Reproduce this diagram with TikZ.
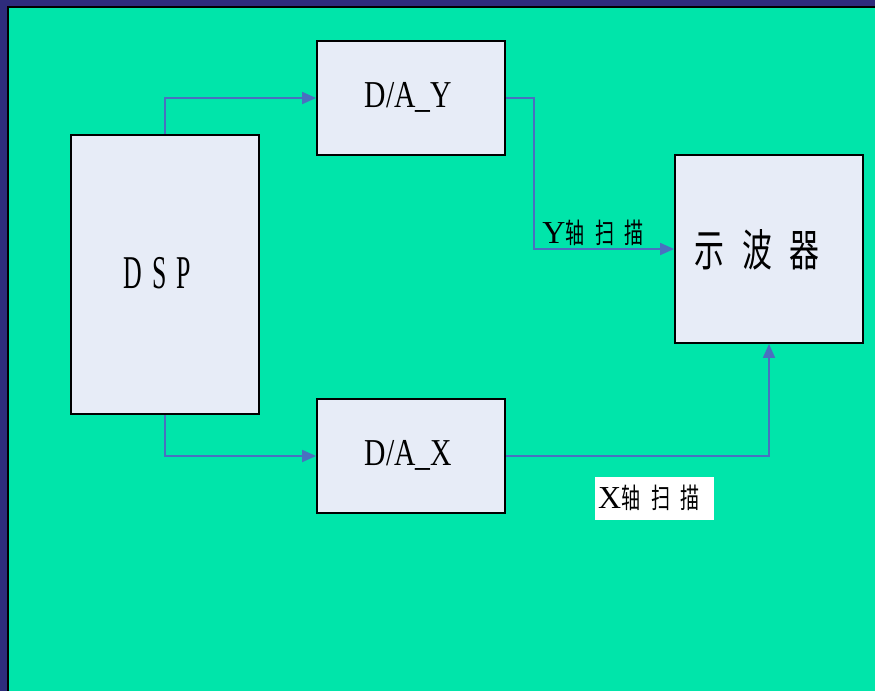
\documentclass[tikz,border=0pt]{standalone}
\usepackage{fontspec}
\usetikzlibrary{arrows.meta}
\setmainfont{Liberation Serif}
\newfontfamily\condA[FakeStretch=0.78]{Liberation Serif}
\newfontfamily\condB[FakeStretch=0.55]{Liberation Serif}
\newfontfamily\cjk[FakeStretch=0.68]{Noto Sans CJK SC}
\definecolor{navy}{HTML}{2E2C7C}
\definecolor{bggreen}{HTML}{00E5AA}
\definecolor{boxfill}{HTML}{E7ECF7}
\definecolor{arrblue}{HTML}{4A70C0}
\tikzset{
  box/.style={draw=black, line width=1.8pt, fill=boxfill, inner sep=0pt},
  arr/.style={draw=arrblue, line width=1.8pt, -{Triangle[length=14pt,width=12pt]}},
  lbl/.style={inner sep=0pt, anchor=base}
}
\begin{document}
\begin{tikzpicture}[x=1pt,y=-1pt]
\useasboundingbox (0,0) rectangle (875,691);
\fill[navy] (0,0) rectangle (875,691);
\fill[black] (7,6) rectangle (875,691);
\fill[bggreen] (9,8) rectangle (875,691);

\node[box, minimum width=188pt, minimum height=279pt] (dsp) at (165,274.5) {};
\node[box, minimum width=188pt, minimum height=114pt] (dy) at (411,98) {};
\node[box, minimum width=188pt, minimum height=114pt] (dx) at (411,456) {};
\node[box, minimum width=188pt, minimum height=188pt] (osc) at (769,249) {};

\node[lbl] (tdsp) at (157,288) {\fontsize{47pt}{47pt}\condB D\hspace{11pt}S\hspace{9pt}P};
\node[lbl] (tdy) at (408.5,107) {\fontsize{38pt}{38pt}\condA D/A\_Y};
\node[lbl] (tdx) at (408.5,465) {\fontsize{38pt}{38pt}\condA D/A\_X};
\node[lbl] (tosc) at (757,266) {\fontsize{44pt}{44pt}\cjk 示\hspace{18pt}波\hspace{18pt}器};

\draw[arr] (dsp.north) |- (dy.west);
\draw[arr] (dsp.south) |- (dx.west);
\draw[arr] (dy.east) -- ++(28,0) |- (osc.west);
\draw[arr] (dx.east) -| (osc.south);

\node[lbl] (ylab) at (593,243) {\fontsize{32pt}{32pt}\selectfont Y{\fontsize{28pt}{28pt}\cjk 轴\hspace{11pt}扫\hspace{10pt}描}};
\node[fill=white, inner sep=0pt, minimum width=119pt, minimum height=43pt, anchor=north west] (xbg) at (595,477) {};
\node[lbl, anchor=base west] (xlab) at (598,508) {\fontsize{32pt}{32pt}\selectfont X{\fontsize{28pt}{28pt}\cjk 轴\hspace{11pt}扫\hspace{10pt}描}};
\end{tikzpicture}
\end{document}
